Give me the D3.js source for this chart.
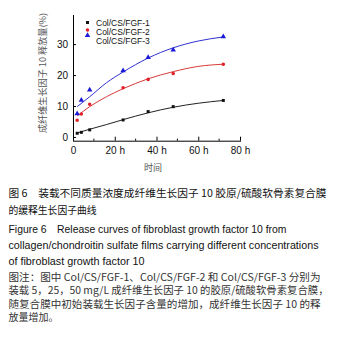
<!DOCTYPE html>
<html><head><meta charset="utf-8">
<script src="https://cdn.jsdelivr.net/npm/d3@7"></script>
<style>html,body{margin:0;padding:0;background:#fff;}svg{display:block;}</style>
</head><body>
<script>
// ---- data ----
const seriesNames = ["Col/CS/FGF-1", "Col/CS/FGF-2", "Col/CS/FGF-3"];
const times = [2, 4, 8, 24, 36, 48, 72];
const fgf1 = [1.2, 1.5, 2.3, 5.5, 8.2, 9.8, 11.8];
const fgf2 = [5.4, 7.4, 10.6, 15.9, 18.6, 20.5, 23.5];
const fgf3 = [7.5, 11.9, 15.2, 21.4, 25.7, 28.1, 32.4];
const fitTimes = [2, 8, 16, 24, 36, 48, 60, 72];
const fit1 = [1.3, 2.5, 4.0, 5.6, 7.8, 9.6, 10.9, 11.8];
const fit2 = [6.8, 9.8, 13.0, 15.6, 18.8, 21.1, 22.8, 23.5];
const fit3 = [9.8, 13.0, 17.5, 21.0, 25.5, 28.8, 31.0, 32.3];
const xTicks = [0, 20, 40, 60, 80];
const xTickLabels = ["0", "20 h", "40 h", "60 h", "80 h"];
const xMinorTicks = [10, 30, 50, 70];
const yTicks = [0, 10, 20, 30];
const yTitle = "成纤维生长因子 10 释放量(%)";
const xTitle = "时间";
const captionLines = [
  "图 6　装载不同质量浓度成纤维生长因子 10 胶原/硫酸软骨素复合膜",
  "的缓释生长因子曲线",
  "Figure 6　Release curves of fibroblast growth factor 10 from",
  "collagen/chondroitin sulfate films carrying different concentrations",
  "of fibroblast growth factor 10",
  "图注：图中 Col/CS/FGF-1、Col/CS/FGF-2 和 Col/CS/FGF-3 分别为",
  "装载 5，25，50 mg/L 成纤维生长因子 10 的胶原/硫酸软骨素复合膜，",
  "随复合膜中初始装载生长因子含量的增加，成纤维生长因子 10 的释",
  "放量增加。"
];

// ---- layout ----
const W = 344, H = 344;
const svg = d3.select("body").append("svg").attr("width", W).attr("height", H);
const sans = "Liberation Sans, Arial, sans-serif";
const cjk = "'Noto Sans CJK SC', 'Liberation Sans', sans-serif";

const x = d3.scaleLinear().domain([0, 80]).range([73, 240]);
const y = d3.scaleLinear().domain([-1.2, 39.4]).range([140.7, 15]);

// axes
const gx = svg.append("g").attr("transform", `translate(0,${y(-1.2)})`);
gx.call(d3.axisBottom(x).tickValues(xTicks).tickSize(-4).tickFormat((d, i) => xTickLabels[i]).tickPadding(6));
gx.append("g").selectAll("line").data(xMinorTicks).join("line")
  .attr("x1", d => x(d)).attr("x2", d => x(d)).attr("y1", 0).attr("y2", -2)
  .attr("stroke", "#000");
const gy = svg.append("g").attr("transform", `translate(${x(0)},0)`);
gy.call(d3.axisLeft(y).tickValues(yTicks).tickSize(-3).tickPadding(5));
[gx, gy].forEach(g => {
  g.select(".domain").attr("stroke", "#000").attr("stroke-width", 1);
  g.selectAll(".tick line").attr("stroke", "#000");
  g.selectAll("text").attr("font-family", sans).attr("font-size", 10).attr("fill", "#111");
});
gy.select(".domain").attr("d", `M0.5,${y(-1.2)}V${y(39.4)}`);
gx.select(".domain").attr("d", `M${x(0)},0.5H${x(80)+1}`);

// titles
svg.append("text").attr("transform", `translate(46,${73}) rotate(-90)`)
  .attr("text-anchor", "middle").attr("font-family", cjk).attr("font-size", 9)
  .attr("fill", "#555").attr("textLength", 120).attr("lengthAdjust", "spacingAndGlyphs").text(yTitle);
svg.append("text").attr("x", 153).attr("y", 171).attr("text-anchor", "middle")
  .attr("font-family", cjk).attr("font-size", 9).attr("fill", "#555").text(xTitle);

// series
const colors = ["#111", "#e0202a", "#1a1ad8"];
const lineColors = ["#222", "#d83a3a", "#3030d0"];
const pts = [fgf1, fgf2, fgf3];
const fits = [fit1, fit2, fit3];
const line = d3.line().x(d => x(d[0])).y(d => y(d[1])).curve(d3.curveMonotoneX);
fits.forEach((f, i) => {
  svg.append("path").attr("d", line(fitTimes.map((t, j) => [t, f[j]])))
    .attr("fill", "none").attr("stroke", lineColors[i]).attr("stroke-width", 1);
});
const symTypes = [d3.symbolSquare, d3.symbolCircle, d3.symbolTriangle];
const symSizes = [9, 10, 13];
pts.forEach((p, i) => {
  svg.append("g").selectAll("path").data(times.map((t, j) => [t, p[j]])).join("path")
    .attr("transform", d => `translate(${x(d[0])},${y(d[1])})`)
    .attr("d", d3.symbol().type(symTypes[i]).size(symSizes[i]))
    .attr("fill", colors[i]);
});

// legend
const legMarkY = [22.5, 30, 35.5];
const legTextY = [25.8, 34.5, 43.5];
seriesNames.forEach((n, i) => {
  svg.append("path").attr("transform", `translate(87.5,${legMarkY[i]})`)
    .attr("d", d3.symbol().type(symTypes[i]).size(symSizes[i])).attr("fill", colors[i]);
  svg.append("text").attr("x", 96).attr("y", legTextY[i]).attr("font-family", sans)
    .attr("font-size", 8.5).attr("fill", "#111").text(n);
});

// caption
const capY = [196.5, 213.5, 232.5, 249, 265, 280.5, 294, 307.5, 321];
const capW = [318, 88, 278, 310, 136, 312, 320, 312, null];
const capSize = [10.5, 10.5, 11, 11, 11, 10, 10, 10, 10];
const capFill = ["#111", "#111", "#111", "#111", "#111", "#333", "#333", "#333", "#333"];
captionLines.forEach((s, i) => {
  const t = svg.append("text").attr("x", 8.5).attr("y", capY[i])
    .attr("font-family", /^[A-Za-z]/.test(s) ? sans : cjk)
    .attr("font-size", capSize[i]).attr("fill", capFill[i]).text(s);
  if (capW[i]) t.attr("textLength", capW[i]).attr("lengthAdjust", "spacingAndGlyphs");
});
</script>
</body></html>
